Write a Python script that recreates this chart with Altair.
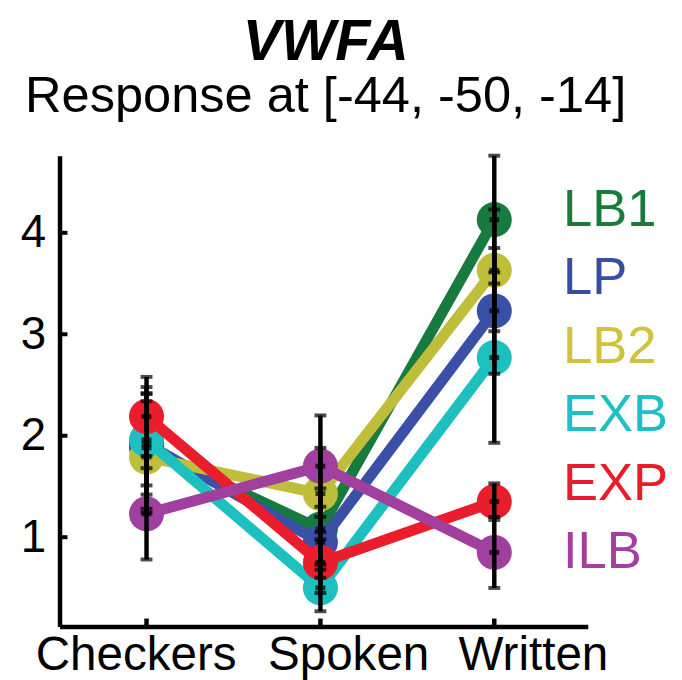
import altair as alt
import pandas as pd

# ---- data ----
conds = ["Checkers", "Spoken", "Written"]
series = ["LB1", "LP", "LB2", "EXB", "EXP", "ILB"]
colors = ["#177b3f", "#3a4fa6", "#bfbe3a", "#1dbfbf", "#ea1d2d", "#a13f9e"]
text_colors = ["#1a7a3c", "#3a4ea0", "#cfc33c", "#1fbfc6", "#ea1c2c", "#a33fa0"]

LB1 = [1.88, 1.08, 4.13]
LP = [1.92, 0.95, 3.23]
LB2 = [1.79, 1.43, 3.63]
EXB = [1.96, 0.50, 2.77]
EXP = [2.19, 0.75, 1.35]
ILB = [1.23, 1.70, 0.85]

LB1_err = [0.60, 0.40, 0.63]
LP_err = [0.50, 0.35, 0.62]
LB2_err = [0.55, 0.45, 0.60]
EXB_err = [0.45, 0.23, 0.84]
EXP_err = [0.39, 0.30, 0.18]
ILB_err = [0.45, 0.50, 0.35]

y_ticks = [1, 2, 3, 4]

values = [LB1, LP, LB2, EXB, EXP, ILB]
errors = [LB1_err, LP_err, LB2_err, EXB_err, EXP_err, ILB_err]

rows = []
for s, vals, errs in zip(series, values, errors):
    for c, v, e in zip(conds, vals, errs):
        rows.append(dict(series=s, cond=c, value=v, lo=v - e, hi=v + e))
df = pd.DataFrame(rows)
tick_df = pd.DataFrame({"t": y_ticks})
cond_df = pd.DataFrame({"cond": conds})
leg_df = pd.DataFrame({"series": series})

W, H = 533, 475
FONT = "Liberation Sans"

xscale = alt.Scale(type="point", domain=conds, padding=0.519, align=0.482)
yscale = alt.Scale(domain=[0.12, 4.76], nice=False, zero=False)
cscale = alt.Scale(domain=series, range=colors)

x_label_offset = {
    "condition": [
        {"test": "datum.value === 'Checkers'", "value": -11},
        {"test": "datum.value === 'Spoken'", "value": 28},
    ],
    "value": 39,
}

X = alt.X("cond:N", scale=xscale, sort=conds,
          axis=alt.Axis(title=None, ticks=False, labelAngle=0, labelFontSize=48,
                        labelFont=FONT, labelColor="black", labelPadding=5,
                        labelOffset=x_label_offset, labelLimit=0, labelOverlap=False,
                        domainColor="black", domainWidth=4.5))
Y = alt.Y("value:Q", scale=yscale,
          axis=alt.Axis(title=None, values=y_ticks, ticks=False, grid=False,
                        labelFontSize=46, labelFont=FONT, labelColor="black",
                        labelPadding=14, format="d", domainColor="black",
                        domainWidth=4.5))
C = alt.Color("series:N", scale=cscale, legend=None)

base = alt.Chart(df)
layers = []
for s in series:
    sb = base.transform_filter(alt.datum.series == s)
    layers.append(sb.mark_line(strokeWidth=11, strokeCap="round", strokeJoin="round")
                  .encode(x=X, y=Y, color=C))
    layers.append(sb.mark_circle(size=1250, opacity=1).encode(x=X, y=Y, color=C))

bars = base.mark_rule(color="black", strokeWidth=4.5).encode(
    x=alt.X("cond:N", scale=xscale), y=alt.Y("lo:Q", scale=yscale), y2="hi:Q")
cap_lo = base.mark_tick(color="black", size=12, thickness=4).encode(
    x=alt.X("cond:N", scale=xscale), y=alt.Y("lo:Q", scale=yscale))
cap_hi = base.mark_tick(color="black", size=12, thickness=4).encode(
    x=alt.X("cond:N", scale=xscale), y=alt.Y("hi:Q", scale=yscale))
centers = base.mark_tick(color="black", size=10, thickness=5).encode(
    x=alt.X("cond:N", scale=xscale), y=alt.Y("value:Q", scale=yscale))

ytick_marks = alt.Chart(tick_df).mark_rule(color="black", strokeWidth=4).encode(
    y=alt.Y("t:Q", scale=yscale), x=alt.value(0), x2=alt.value(8))
xtick_marks = alt.Chart(cond_df).mark_rule(color="black", strokeWidth=4.5).encode(
    x=alt.X("cond:N", scale=xscale), y=alt.value(H), y2=alt.value(H - 8))

main = alt.layer(*layers, bars, cap_lo, cap_hi, centers, ytick_marks, xtick_marks)

legend_text = alt.Chart(leg_df).mark_text(
    align="left", baseline="middle", fontSize=53, font=FONT, dy=0
).encode(
    x=alt.value(508),
    y=alt.Y("series:N", sort=series,
            scale=alt.Scale(type="point", domain=series, padding=0.942, align=0.423),
            axis=None),
    text="series:N",
    color=alt.Color("series:N", scale=alt.Scale(domain=series, range=text_colors),
                    legend=None),
)

chart = alt.layer(main, legend_text).resolve_scale(y="independent", color="independent").properties(
    width=W, height=H,
    padding={"left": 12, "top": 3, "right": 5, "bottom": 0},
    title=alt.TitleParams(
        "VWFA", subtitle="Response at [-44, -50, -14]",
        font=FONT, fontSize=58, fontWeight="bold", fontStyle="italic", color="black",
        subtitleFont=FONT, subtitleFontSize=51, subtitleColor="black",
        subtitlePadding=0, offset=32, anchor="middle", frame="group", dx=2,
    ),
).configure_view(stroke=None)

chart.save("out.html", embed_options={"renderer": "svg", "actions": False})
